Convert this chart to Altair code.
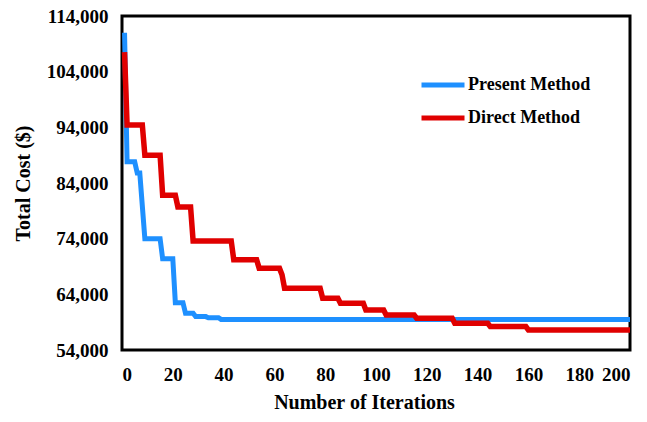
import altair as alt
import pandas as pd

# Present Method (blue) — iteration breakpoints and total cost
present_iter = [1, 2, 5, 6, 7, 9, 15, 16, 20, 21, 24, 25, 28, 29, 33, 34, 38, 39, 200]
present_cost = [111000, 87800, 87800, 85800, 85800, 74000, 74000, 70400, 70400, 62500, 62500,
                60600, 60600, 60000, 60000, 59800, 59800, 59500, 59500]

# Direct Method (red)
direct_iter = [1, 2, 8, 9, 15, 16, 21, 22, 27, 28, 43, 44, 53, 54, 62, 63, 64, 78, 79, 85, 86,
               95, 96, 103, 104, 115, 116, 130, 131, 144, 145, 159, 160, 200]
direct_cost = [107500, 94400, 94400, 89000, 89000, 81800, 81800, 79700, 79700, 73600, 73600,
               70200, 70200, 68700, 68700, 67500, 65100, 65100, 63300, 63300, 62400, 62400,
               61200, 61200, 60300, 60300, 59700, 59700, 58800, 58800, 58200, 58200, 57600, 57600]

series_names = ["Present Method", "Direct Method"]
series_colors = ["#1E90FF", "#E00000"]
x_ticks = list(range(0, 201, 20))
y_ticks = list(range(54000, 114001, 10000))

df_p = pd.DataFrame({"iter": present_iter, "cost": present_cost, "method": "Present Method"})
df_d = pd.DataFrame({"iter": direct_iter, "cost": direct_cost, "method": "Direct Method"})

FONT = "Liberation Serif"

x_enc = alt.X("iter:Q", scale=alt.Scale(domain=[0, 200], nice=False),
              axis=alt.Axis(values=x_ticks, title="Number of Iterations", grid=False,
                            domain=False, ticks=False, labelPadding=15, titlePadding=8,
                            labelFontSize=19, titleFontSize=20, titleX=242,
                            labelFont=FONT, titleFont=FONT, labelFontWeight="bold",
                            titleFontWeight="bold", labelColor="black", titleColor="black"))
y_enc = alt.Y("cost:Q", scale=alt.Scale(domain=[54000, 114000], nice=False, zero=False),
              axis=alt.Axis(values=y_ticks, format=",d", title="Total Cost ($)", grid=False,
                            domain=False, ticks=False, labelPadding=14, titlePadding=13,
                            labelFontSize=19, titleFontSize=20,
                            labelFont=FONT, titleFont=FONT, labelFontWeight="bold",
                            titleFontWeight="bold", labelColor="black", titleColor="black"))
color_enc = alt.Color("method:N",
                      scale=alt.Scale(domain=series_names, range=series_colors),
                      legend=alt.Legend(title=None, orient="none", legendX=297, legendY=59,
                                        symbolType="stroke", symbolSize=1849,
                                        symbolStrokeWidth=5, clipHeight=20, rowPadding=13,
                                        labelOffset=1, labelFontSize=18, labelFont=FONT,
                                        labelFontWeight="bold", labelColor="black"))

line_p = alt.Chart(df_p).mark_line(strokeWidth=5, strokeCap="butt").encode(
    x=x_enc, y=y_enc, color=color_enc)
line_d = alt.Chart(df_d).mark_line(strokeWidth=5.5, strokeCap="butt").encode(
    x=x_enc, y=y_enc, color=color_enc)

chart = alt.layer(line_p, line_d).properties(
    width=508, height=334,
    autosize=alt.AutoSizeParams(type="none"),
    padding={"left": 114, "top": 8, "right": 9, "bottom": 64},
    background="white",
).configure_view(
    stroke="black", strokeWidth=3
)

chart.save("out.html", embed_options={"renderer": "svg", "actions": False})
